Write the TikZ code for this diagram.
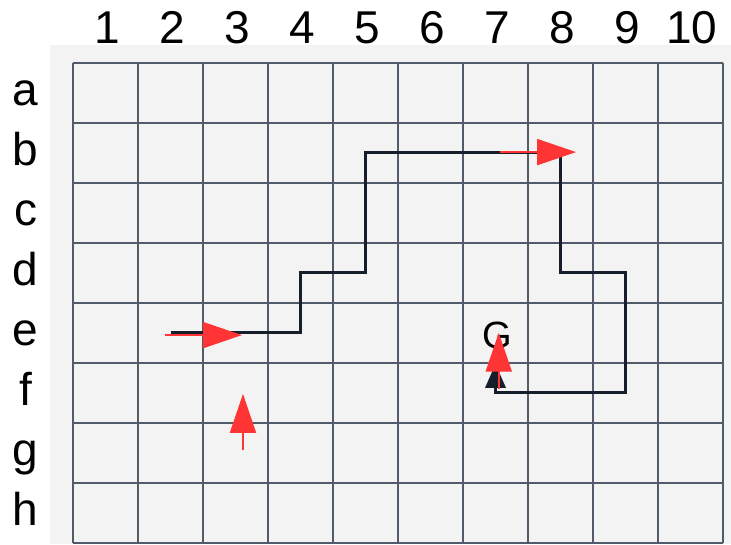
\documentclass[tikz,border=0pt]{standalone}
\usepackage{fontspec}
\setmainfont{Liberation Sans}
\usetikzlibrary{arrows.meta}
\definecolor{bggray}{RGB}{243,243,243}
\definecolor{gridcol}{RGB}{80,90,105}
\definecolor{pathcol}{RGB}{22,30,44}
\definecolor{redcol}{RGB}{255,52,52}
\tikzset{
  lbl/.style={font=\fontsize{46}{50}\selectfont,inner sep=0pt,anchor=base},
  gridline/.style={draw=gridcol,line width=1.8pt},
  route/.style={draw=pathcol,line width=3.5pt,-{Triangle[length=24pt,width=20pt]}},
  hint/.style={draw=redcol,line width=2pt,-{Triangle[length=39pt,width=26pt]},color=redcol},
  goal/.style={font=\fontsize{38}{42}\selectfont,inner sep=0pt,anchor=base}
}
\begin{document}
\begin{tikzpicture}[x=65pt,y=-60pt]
    \useasboundingbox (-1.1231,-1.045) rectangle (10.1231,8.0217);
    % Board
    \fill[bggray] (-0.354,-0.295) rectangle (10.1231,8.0217);
    \foreach \i in {0,...,10}
      \draw[gridline] (\i,0) -- (\i,8);
    \foreach \k in {0,...,8}
      \draw[gridline] (0,\k) -- (10,\k);
    
    % Labels
    \foreach \i in {1,...,10}
      \node[lbl] (col\i) at (\i-0.48,-0.328) {\i};
    \foreach \r [count=\k] in {a,...,h}
      \node[lbl] (row\r) at (-0.73,\k-0.295) {\r};
    
    % Cell centres
    \foreach \i in {1,...,10}
      \foreach \r [count=\k] in {a,...,h}
        \coordinate (\r\i) at (\i-0.5,\k-0.5);
    \coordinate (tipG) at (6.5,5.02);
    
    % Route
    \draw[route] (e2) -- (e4) -- (d4) -- (d5) -- (b5) -- (b8) -- (d8) -- (d9) -- (f9) -- (f7) -- (tipG);
    \node[goal] (goal) at (6.52,4.755) {G};
    
    % Red arrows
    \coordinate (h1s) at (1.42,4.54);  \coordinate (h1e) at (2.6,4.54);
    \coordinate (h2s) at (2.615,6.46); \coordinate (h2e) at (2.615,5.52);
    \coordinate (h3s) at (6.57,1.49);  \coordinate (h3e) at (7.74,1.49);
    \coordinate (h4s) at (6.55,5.44);  \coordinate (h4e) at (6.55,4.5);
    \draw[hint] (h1s) -- (h1e);
    \draw[hint] (h2s) -- (h2e);
    \draw[hint] (h3s) -- (h3e);
    \draw[hint] (h4s) -- (h4e);
    
  \end{tikzpicture}
\end{document}
